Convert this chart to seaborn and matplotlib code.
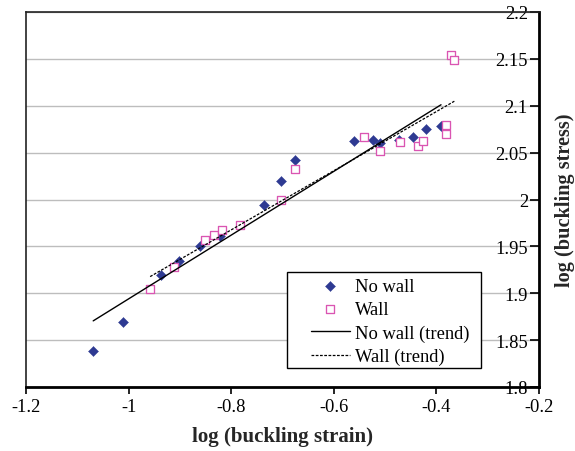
import matplotlib
matplotlib.use("Agg")
import matplotlib.pyplot as plt
from matplotlib.patches import Rectangle
import numpy as np
import pandas as pd
import seaborn as sns

# Buckling measurements (log scale)
nowall_x = [-1.069, -1.010, -0.936, -0.902, -0.861, -0.822, -0.737, -0.702,
            -0.676, -0.560, -0.523, -0.510, -0.473, -0.446, -0.421, -0.391]
nowall_y = [1.838, 1.869, 1.919, 1.934, 1.950, 1.961, 1.994, 2.020,
            2.042, 2.062, 2.064, 2.060, 2.063, 2.067, 2.075, 2.078]

wall_x = [-0.958, -0.912, -0.852, -0.834, -0.817, -0.782, -0.702, -0.676,
          -0.542, -0.510, -0.470, -0.435, -0.427, -0.381, -0.381, -0.372, -0.365]
wall_y = [1.905, 1.928, 1.957, 1.962, 1.968, 1.973, 2.000, 2.033,
          2.067, 2.052, 2.061, 2.057, 2.062, 2.080, 2.070, 2.154, 2.149]

# Linear trend coefficients (slope, intercept)
nowall_trend = (0.340, 2.234)
wall_trend = (0.3155, 2.220)

x_ticks = [-1.2, -1.0, -0.8, -0.6, -0.4, -0.2]
x_tick_labels = ["-1.2", "-1", "-0.8", "-0.6", "-0.4", "-0.2"]
y_ticks = [1.8, 1.85, 1.9, 1.95, 2.0, 2.05, 2.1, 2.15, 2.2]
y_tick_labels = ["1.8", "1.85", "1.9", "1.95", "2", "2.05", "2.1", "2.15", "2.2"]

BLUE = "#2E3A92"
PINK = "#DA55B2"

sns.set_theme(style="white")
plt.rcParams["font.family"] = ["Liberation Serif", "DejaVu Serif"]

W, H = 575, 452
fig = plt.figure(figsize=(W / 100, H / 100), dpi=100)
fig.patch.set_facecolor("white")
ax = fig.add_axes([26 / W, 1 - 388 / H, (539 - 26) / W, (388 - 13) / H])

df_nowall = pd.DataFrame({"x": nowall_x, "y": nowall_y})
df_wall = pd.DataFrame({"x": wall_x, "y": wall_y})


def trend_frame(xs, coef):
    lo, hi = min(xs), max(xs)
    xx = np.array([lo, hi])
    return pd.DataFrame({"x": xx, "y": coef[0] * xx + coef[1]})


sns.scatterplot(data=df_nowall, x="x", y="y", marker="D", s=26, color=BLUE,
                edgecolor=BLUE, linewidth=0.3, ax=ax, zorder=3, label="No wall")
sns.scatterplot(data=df_wall, x="x", y="y", marker="s", s=26, facecolor="white",
                edgecolor=PINK, linewidth=0.95, ax=ax, zorder=4, label="Wall")
sns.lineplot(data=trend_frame(nowall_x, nowall_trend), x="x", y="y", color="black",
             linewidth=1.0, ax=ax, zorder=5, label="No wall (trend)")
sns.lineplot(data=trend_frame(wall_x, wall_trend), x="x", y="y", color="black",
             linewidth=0.9, linestyle=(0, (2.2, 1.2)), ax=ax, zorder=5,
             label="Wall (trend)")

ax.set_xlim(-1.2, -0.2)
ax.set_ylim(1.8, 2.2)
ax.set_xticks(x_ticks)
ax.set_xticklabels(x_tick_labels)
ax.set_yticks(y_ticks)
ax.set_yticklabels(y_tick_labels)

# horizontal gridlines only
ax.yaxis.grid(True, color="#BDBDBD", linewidth=1.0)
ax.xaxis.grid(False)
ax.set_axisbelow(True)

# value axis sits on the right edge, labels inside the plot
ax.spines["left"].set_position(("axes", 1.0))
ax.spines["left"].set_linewidth(2.0)
ax.spines["left"].set_color("black")
ax.spines["right"].set_position(("axes", 0.0))
ax.spines["right"].set_linewidth(1.2)
ax.spines["right"].set_color("#222222")
ax.spines["top"].set_linewidth(1.2)
ax.spines["top"].set_color("#222222")
ax.spines["bottom"].set_linewidth(2.0)
ax.spines["bottom"].set_color("black")
for s in ax.spines.values():
    s.set_visible(True)

ax.yaxis.set_ticks_position("left")
ax.xaxis.set_ticks_position("bottom")
ax.tick_params(axis="y", direction="out", length=6.5, width=1.2, pad=1.5,
               labelsize=13.3, colors="black")
ax.tick_params(axis="x", direction="out", length=5, width=1.2, pad=3,
               labelsize=13.3, colors="black")

ax.set_xlabel("log (buckling strain)", fontsize=15, fontweight="bold")
ax.xaxis.set_label_coords(0.5, (15 - 64) / 375)
ax.xaxis.label.set_va("center")
ax.set_ylabel("log (buckling stress)", fontsize=14.6, fontweight="bold")
ax.yaxis.set_label_position("right")
ax.yaxis.set_label_coords((565 - 26) / 513, 0.5)
ax.yaxis.label.set_va("center")
ax.yaxis.label.set_rotation(90)

# legend content without frame; frame drawn as a separate box behind it
leg = ax.legend(loc="upper left", bbox_to_anchor=(311 / W, 1 - 279 / H),
                bbox_transform=fig.transFigure, frameon=False, fontsize=13.3,
                handlelength=2.1, handletextpad=0.27, labelspacing=0.34,
                borderpad=0, borderaxespad=0)
for t in leg.get_texts():
    t.set_color("black")
frame = Rectangle((287 / W, 1 - 369 / H), (481 - 287) / W, (369 - 273) / H,
                  transform=fig.transFigure, facecolor="white",
                  edgecolor="black", linewidth=1.0, zorder=9, clip_on=False)
ax.add_patch(frame)
leg.set_zorder(10)

fig.savefig("out.png", dpi=100, facecolor="white")
